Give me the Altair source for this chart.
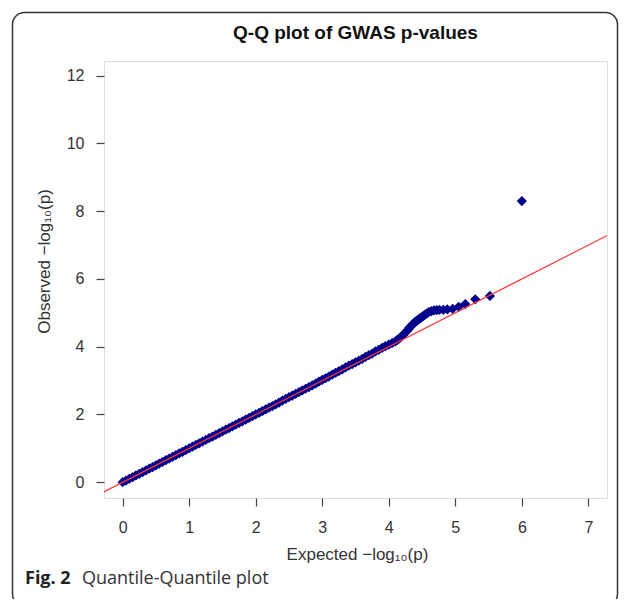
import altair as alt
import pandas as pd

# Expected vs observed -log10(p), main band
band_x = [0.00, 0.05, 0.10, 0.15, 0.20, 0.25, 0.30, 0.35, 0.40, 0.45,
          0.50, 0.55, 0.60, 0.65, 0.70, 0.75, 0.80, 0.85, 0.90, 0.95,
          1.00, 1.05, 1.10, 1.15, 1.20, 1.25, 1.30, 1.35, 1.40, 1.45,
          1.50, 1.55, 1.60, 1.65, 1.70, 1.75, 1.80, 1.85, 1.90, 1.95,
          2.00, 2.05, 2.10, 2.15, 2.20, 2.25, 2.30, 2.35, 2.40, 2.45,
          2.50, 2.55, 2.60, 2.65, 2.70, 2.75, 2.80, 2.85, 2.90, 2.95,
          3.00, 3.05, 3.10, 3.15, 3.20, 3.25, 3.30, 3.35, 3.40, 3.45,
          3.50, 3.55, 3.60, 3.65, 3.70, 3.75, 3.80, 3.85, 3.90, 3.95]
band_y = [0.00, 0.05, 0.10, 0.15, 0.20, 0.25, 0.30, 0.35, 0.40, 0.45,
          0.50, 0.55, 0.60, 0.65, 0.70, 0.75, 0.80, 0.85, 0.90, 0.95,
          1.00, 1.05, 1.10, 1.15, 1.20, 1.25, 1.30, 1.35, 1.40, 1.45,
          1.50, 1.55, 1.60, 1.65, 1.70, 1.75, 1.80, 1.85, 1.90, 1.95,
          2.00, 2.05, 2.10, 2.15, 2.20, 2.25, 2.30, 2.35, 2.41, 2.46,
          2.51, 2.56, 2.61, 2.66, 2.71, 2.76, 2.81, 2.86, 2.91, 2.97,
          3.02, 3.07, 3.12, 3.18, 3.23, 3.28, 3.33, 3.39, 3.44, 3.49,
          3.54, 3.59, 3.64, 3.70, 3.75, 3.80, 3.86, 3.91, 3.97, 4.02]

# Upper tail of the distribution
tail_x = [4.00, 4.05, 4.10, 4.13, 4.16, 4.19, 4.22, 4.25, 4.28, 4.30,
          4.31, 4.33, 4.35, 4.37, 4.39, 4.41, 4.43, 4.45, 4.47, 4.49,
          4.52, 4.54, 4.57, 4.60, 4.64, 4.68, 4.72, 4.76, 4.82, 4.88,
          4.96, 5.05, 5.15, 5.30, 5.52, 6.00]
tail_y = [4.06, 4.11, 4.16, 4.20, 4.25, 4.30, 4.36, 4.42, 4.48, 4.53,
          4.56, 4.60, 4.64, 4.68, 4.72, 4.75, 4.78, 4.81, 4.84, 4.87,
          4.91, 4.94, 4.98, 5.02, 5.05, 5.07, 5.08, 5.09, 5.09, 5.10,
          5.12, 5.18, 5.26, 5.40, 5.50, 8.30]

# Reference line y = x
line_x = [-1, 8]
line_y = [-1, 8]

x_ticks = [0, 1, 2, 3, 4, 5, 6, 7]
y_ticks = [0, 2, 4, 6, 8, 10, 12]

pts = pd.DataFrame({"expected": band_x + tail_x, "observed": band_y + tail_y})
ref = pd.DataFrame({"expected": line_x, "observed": line_y})
one = pd.DataFrame({"k": [0]})

FONT = "Liberation Sans"

xscale = alt.Scale(domain=[-0.28, 7.28], nice=False, zero=False)
yscale = alt.Scale(domain=[-0.465, 12.435], nice=False, zero=False)

xaxis = alt.Axis(values=x_ticks, format="d", title="Expected  −log₁₀(p)", grid=False, domain=False,
                 tickSize=8, tickWidth=1.2, tickColor="#444", labelPadding=13,
                 labelFont=FONT, labelFontSize=16, labelColor="#333",
                 titleFont=FONT, titleFontSize=17, titleFontWeight="normal", titleColor="#333",
                 titleX=253, titleY=61, titleBaseline="alphabetic", titleAlign="center")
yaxis = alt.Axis(values=y_ticks, format="d", title="Observed  −log₁₀(p)", grid=False, domain=False,
                 tickSize=8, tickWidth=1.2, tickColor="#444", labelPadding=12,
                 labelFont=FONT, labelFontSize=16, labelColor="#333",
                 titleFont=FONT, titleFontSize=17, titleFontWeight="normal", titleColor="#333",
                 titleAngle=270, titleX=-60, titleY=200, titleBaseline="middle", titleAlign="center")

points = alt.Chart(pts).mark_point(shape="diamond", filled=True, size=105, color="#00008B",
                                   opacity=1).encode(
    x=alt.X("expected:Q", scale=xscale, axis=xaxis),
    y=alt.Y("observed:Q", scale=yscale, axis=yaxis),
)

line = alt.Chart(ref).mark_line(color="#ff3b3b", strokeWidth=1.2, clip=True).encode(
    x=alt.X("expected:Q", scale=xscale, axis=xaxis),
    y=alt.Y("observed:Q", scale=yscale, axis=yaxis),
)

title = alt.Chart(one).mark_text(text="Q-Q plot of GWAS p-values", font=FONT, fontSize=19,
                                 fontWeight="bold", color="#111", align="center",
                                 baseline="alphabetic").encode(
    x=alt.value(251.5), y=alt.value(-22))

cap1 = alt.Chart(one).mark_text(text="Fig. 2", font="Open Sans", fontSize=18,
                                fontWeight="bold", color="#222", align="left",
                                baseline="alphabetic").encode(
    x=alt.value(-79), y=alt.value(523))
cap2 = alt.Chart(one).mark_text(text="Quantile-Quantile plot", font="Open Sans", fontSize=18,
                                fontWeight="normal", color="#333", align="left",
                                baseline="alphabetic").encode(
    x=alt.value(-22), y=alt.value(523))

frame = alt.Chart(one).mark_rect(fill=None, fillOpacity=0, stroke="#333", strokeWidth=1.5,
                                 cornerRadius=12).encode(
    x=alt.value(-91.5), x2=alt.value(513.5), y=alt.value(-48.5), y2=alt.value(545))

chart = alt.layer(frame, points, line, title, cap1, cap2).properties(
    width=503, height=437,
    autosize=alt.AutoSizeParams(type="none"),
    padding={"left": 96, "top": 53, "right": 12, "bottom": 101},
).configure_view(stroke="#333", strokeWidth=1.3).configure(background="white").configure_axis(
    labelFont=FONT, titleFont=FONT)

chart.save("out.html", embed_options={"renderer": "svg", "actions": False})
